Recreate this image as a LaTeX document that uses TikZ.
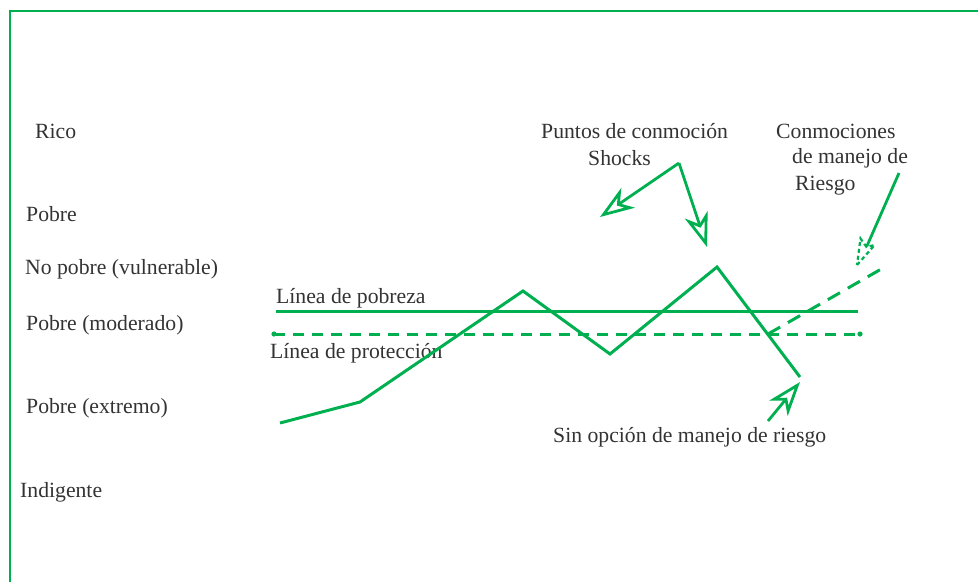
\documentclass[tikz,border=0pt]{standalone}
\usepackage{fontspec}
\setmainfont{Liberation Serif}
\usetikzlibrary{arrows.meta,calc}
\definecolor{ogreen}{HTML}{00B050}
\definecolor{txt}{HTML}{333333}
\tikzset{
  lbl/.style={anchor=west,inner sep=0pt,text=txt,font=\fontsize{21.7}{26}\selectfont},
  gline/.style={draw=ogreen,line width=3pt},
  gdash/.style={draw=ogreen,line width=3pt,dash pattern=on 11pt off 8pt},
  openarrow/.style={draw=ogreen,line width=2.8pt,-{Stealth[open,fill=white,length=34pt,width=24pt,inset=10pt]}},
}
\begin{document}
\begin{tikzpicture}[x=1pt,y=-1pt]
\useasboundingbox (0,0) rectangle (978,582);
% frame
\draw[ogreen,line width=2.4pt] (10,582) -- (10,11) -- (978,11);
% level labels
\node[lbl] (rico) at (35,131) {Rico};
\node[lbl] (pobre) at (26,214) {Pobre};
\node[lbl] (nopobre) at (25,269) {No pobre (vulnerable)};
\node[lbl] (moderado) at (26,325) {Pobre (moderado)};
\node[lbl] (extremo) at (26,408) {Pobre (extremo)};
\node[lbl] (indig) at (20,492) {Indigente};
\node[lbl] (lpob) at (276,298) {Línea de pobreza};
\node[lbl] (lprot) at (270,353) {Línea de protección};
\node[lbl] (puntos) at (541,131) {Puntos de conmoción};
\node[lbl] (shocks) at (588,158) {Shocks};
\node[lbl] (conm1) at (776,131) {Conmociones};
\node[lbl] (conm2) at (792,158) {de manejo de};
\node[lbl] (conm3) at (795,186) {Riesgo};
\node[lbl] (sin) at (553,437) {Sin opción de manejo de riesgo};
% reference lines
\coordinate (pa) at (276,311);
\coordinate (pb) at (858,311);
\draw[gline] (pa) -- (pb);
\coordinate (qa) at (274,334);
\coordinate (qb) at (860,334);
\draw[gdash] (qa) -- (qb);
\fill[ogreen] (qa) circle (2.6) (qb) circle (2.6);
% trajectory
\coordinate (t0) at (280,423);
\coordinate (t1) at (360,402);
\coordinate (t2) at (523,291);
\coordinate (t3) at (610,354);
\coordinate (t4) at (717,267);
\coordinate (t5) at (800,377);
\draw[gline,line join=miter] (t0) -- (t1) -- (t2) -- (t3) -- (t4) -- (t5);
% dashed risk-managed branch
\coordinate (b0) at (768,334);
\coordinate (b1) at (883,268);
\draw[draw=ogreen,line width=3pt,dash pattern=on 14pt off 9pt] (b0) -- (b1);
% shock arrows
\coordinate (s0) at (679,163);
\coordinate (s1) at (600,217);
\coordinate (s2) at (707,247);
\draw[openarrow] (s0) -- (s1);
\draw[openarrow] (s0) -- (s2);
% no-option arrow
\coordinate (n0) at (768,421);
\coordinate (n1) at (800,382);
\draw[openarrow] (n0) -- (n1);
% risk management arrow with dashed head
\coordinate (r0) at (899,173);
\coordinate (r1) at (857,265);
\coordinate (rn) at (866.5,247);
\coordinate (rw1) at (874.7,245);
\coordinate (rw2) at (860.5,238.5);
\draw[gline,line width=2.8pt] (r0) -- (rn);
\draw[draw=ogreen,line width=2.2pt,dash pattern=on 4pt off 3pt,fill=white] (r1) -- (rw1) -- (rn) -- (rw2) -- cycle;
\end{tikzpicture}
\end{document}
